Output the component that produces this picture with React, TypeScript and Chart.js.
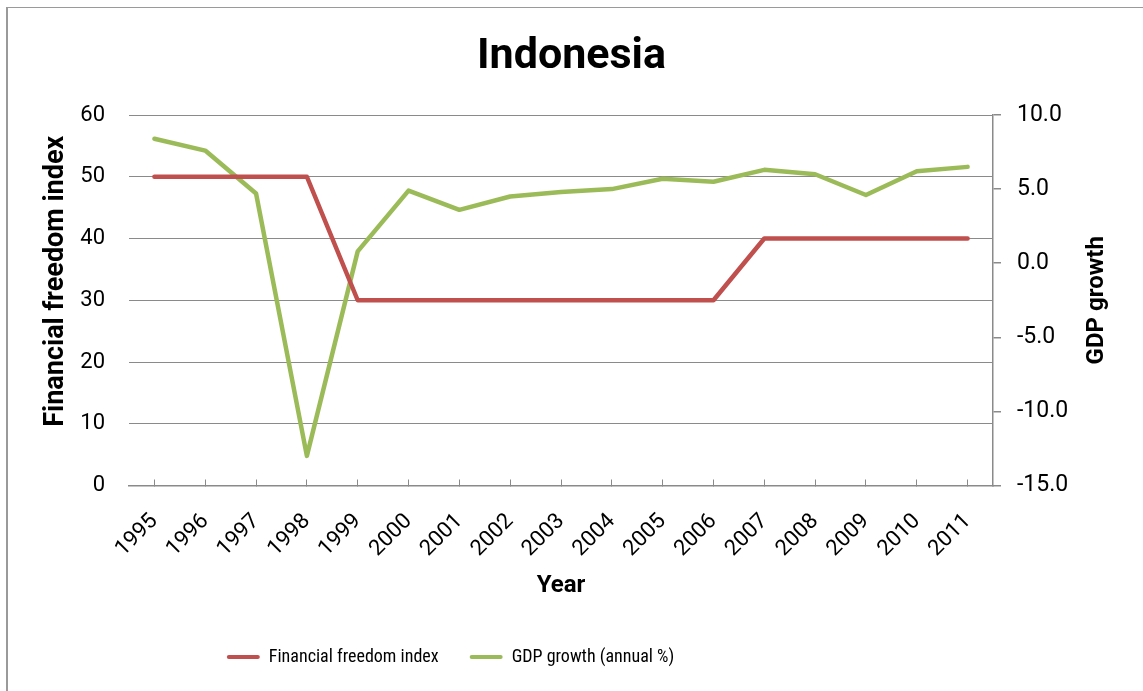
import React, { useEffect, useRef } from "react";
import { Chart, registerables } from "chart.js";

Chart.register(...registerables);

const years = ["1995", "1996", "1997", "1998", "1999", "2000", "2001", "2002", "2003", "2004", "2005", "2006", "2007", "2008", "2009", "2010", "2011"];
const financialFreedom = [50, 50, 50, 50, 30, 30, 30, 30, 30, 30, 30, 30, 40, 40, 40, 40, 40];
const gdpGrowth = [8.4, 7.6, 4.7, -13.0, 0.8, 4.9, 3.6, 4.5, 4.8, 5.0, 5.7, 5.5, 6.3, 6.0, 4.6, 6.2, 6.5];

const titleText = "Indonesia";
const leftTitle = "Financial freedom index";
const rightTitle = "GDP growth";
const xTitle = "Year";
const seriesNames = ["Financial freedom index", "GDP growth (annual %)"];

const RED = "#C0504D";
const GREEN = "#9BBB59";
const GRID = "#8a8a8a";
const FONT = "Roboto, 'Liberation Sans', sans-serif";
const NARROW = "'Roboto Condensed', 'Liberation Sans Narrow', 'DejaVu Sans Condensed', 'Open Sans Condensed', Roboto, sans-serif";

const extrasPlugin = {
  id: "extras",
  afterLayout(chart: any) {
    if (chart.legend) {
      chart.legend.left -= 121;
      chart.legend.right -= 121;
    }
  },
  afterDraw(chart: any) {
    const ctx = chart.ctx;
    const y = chart.scales.y;
    const y2 = chart.scales.y2;
    ctx.save();
    // outer frame (left and top edges)
    ctx.strokeStyle = "#9a9a9a";
    ctx.lineWidth = 2;
    ctx.beginPath();
    ctx.moveTo(7, chart.height);
    ctx.lineTo(7, 7.5);
    ctx.stroke();
    ctx.lineWidth = 1.2;
    ctx.beginPath();
    ctx.moveTo(6, 7.5);
    ctx.lineTo(chart.width, 7.5);
    ctx.stroke();
    ctx.fillStyle = "#000";
    ctx.textAlign = "center";
    ctx.textBaseline = "middle";
    // left axis title, reading bottom to top, sitting a little above the middle
    ctx.save();
    ctx.font = "bold 27px " + FONT;
    ctx.translate(y.left + 56, (y.top + y.bottom) / 2 - 19);
    ctx.rotate(-Math.PI / 2);
    ctx.fillText(leftTitle, 0, 0);
    ctx.restore();
    // right axis title, reading bottom to top
    ctx.font = "bold 24px " + FONT;
    ctx.translate(y2.right - 46, (y2.top + y2.bottom) / 2);
    ctx.rotate(-Math.PI / 2);
    ctx.fillText(rightTitle, 0, 0);
    ctx.restore();
  },
};

export default function App() {
  const ref = useRef<HTMLCanvasElement | null>(null);

  useEffect(() => {
    if (!ref.current) return;
    const chart = new Chart(ref.current, {
      type: "line",
      data: {
        labels: years,
        datasets: [
          {
            label: seriesNames[0],
            data: financialFreedom,
            yAxisID: "y",
            borderColor: RED,
            backgroundColor: RED,
            borderWidth: 4.5,
            pointRadius: 0,
            borderCapStyle: "round",
            borderJoinStyle: "round",
            tension: 0,
          },
          {
            label: seriesNames[1],
            data: gdpGrowth,
            yAxisID: "y2",
            borderColor: GREEN,
            backgroundColor: GREEN,
            borderWidth: 4.5,
            pointRadius: 0,
            borderCapStyle: "round",
            borderJoinStyle: "round",
            tension: 0,
          },
        ],
      },
      options: {
        responsive: false,
        animation: false,
        devicePixelRatio: 1,
        layout: { padding: { left: 0, right: 0, top: 0, bottom: 15 } },
        plugins: {
          tooltip: { enabled: false },
          title: {
            display: true,
            text: titleText,
            color: "#000",
            font: { family: FONT, size: 43, weight: "bold", lineHeight: 1.2 },
            padding: { top: 31.2, bottom: 32.2 },
          },
          legend: {
            display: true,
            position: "bottom",
            labels: {
              color: "#000",
              font: { family: NARROW, size: 18 },
              boxWidth: 33,
              boxHeight: 4,
              padding: 31,
              useBorderRadius: true,
              borderRadius: 2,
              generateLabels(c: any) {
                const items = Chart.defaults.plugins.legend.labels.generateLabels(c);
                return items.map((it: any) => ({ ...it, lineWidth: 0, fillStyle: it.strokeStyle }));
              },
            },
          },
        },
        scales: {
          x: {
            type: "category",
            offset: true,
            grid: {
              display: true,
              drawOnChartArea: false,
              drawTicks: true,
              tickLength: -6,
              color: GRID,
              offset: false,
            },
            border: { display: true, color: GRID, width: 1.5 },
            ticks: {
              color: "#000",
              font: { family: FONT, size: 22 },
              minRotation: 45,
              maxRotation: 45,
              autoSkip: false,
              padding: 29,
            },
            title: {
              display: true,
              text: xTitle,
              color: "#000",
              font: { family: FONT, size: 24, weight: "bold", lineHeight: 1.2 },
              padding: { top: 0, bottom: 17 },
            },
            afterFit(s: any) {
              s.height = 131.5;
            },
          },
          y: {
            type: "linear",
            position: "left",
            min: 0,
            max: 60,
            ticks: {
              stepSize: 10,
              color: "#000",
              font: { family: FONT, size: 22 },
              padding: 24,
            },
            grid: { color: GRID, lineWidth: 1, drawTicks: false, tickLength: 0 },
            border: { display: false },
            title: { display: false, text: leftTitle },
            afterFit(s: any) {
              s.width = 129;
            },
          },
          y2: {
            type: "linear",
            position: "right",
            min: -15,
            max: 10,
            ticks: {
              stepSize: 5,
              color: "#000",
              font: { family: FONT, size: 23 },
              padding: 16,
              callback: (v: any) => Number(v).toFixed(1),
            },
            grid: { drawOnChartArea: false, color: GRID, tickLength: 8, lineWidth: 1.5 },
            border: { display: true, color: GRID, width: 1.5 },
            title: { display: false, text: rightTitle },
            afterFit(s: any) {
              s.width = 150;
            },
          },
        },
      },
      plugins: [extrasPlugin],
    } as any);
    return () => chart.destroy();
  }, []);

  return (
    <div style={{ position: "fixed", left: 0, top: 0, width: 1143, height: 691, background: "#fff" }}>
      <canvas ref={ref} width={1143} height={691} style={{ width: 1143, height: 691, display: "block" }} />
    </div>
  );
}
